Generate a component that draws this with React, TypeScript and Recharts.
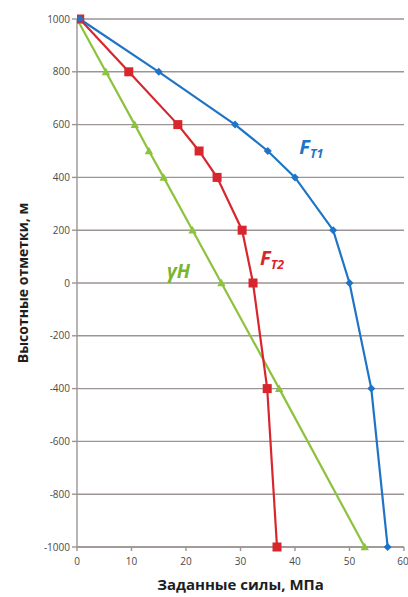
import { LineChart, Line, XAxis, YAxis, CartesianGrid, ReferenceDot } from 'recharts'

const heights = [1000, 800, 600, 500, 400, 200, 0, -400, -1000]
const ft1Values = [0.5, 15, 29, 35, 40, 47, 50, 54, 57]
const ft2Values = [0.5, 9.5, 18.5, 22.4, 25.7, 30.3, 32.3, 34.9, 36.7]
const ghValues = [0, 5.3, 10.6, 13.2, 15.9, 21.2, 26.5, 37.1, 52.8]

const xTicks = [0, 10, 20, 30, 40, 50, 60]
const yTicks = [-1000, -800, -600, -400, -200, 0, 200, 400, 600, 800, 1000]

const COLORS = {
  ft1: '#1f74c6',
  ft2: '#d8262e',
  gh: '#8cc23c',
  ghText: '#7ab532',
  grid: '#9b9593',
  tick: '#4a4a4a',
}

const toPoints = (vals: number[]) => vals.map((f, i) => ({ f, h: heights[i] }))

const ft1Data = toPoints(ft1Values)
const ft2Data = toPoints(ft2Values)
const ghData = toPoints(ghValues)

function DiamondDot({ cx, cy, index }: any) {
  const s = 4
  return (
    <path
      key={`d-${index}`}
      d={`M${cx},${cy - s} L${cx + s},${cy} L${cx},${cy + s} L${cx - s},${cy} Z`}
      fill={COLORS.ft1}
    />
  )
}

function SquareDot({ cx, cy, index }: any) {
  const s = 4.5
  return <rect key={`s-${index}`} x={cx - s} y={cy - s} width={s * 2} height={s * 2} fill={COLORS.ft2} />
}

function TriangleDot({ cx, cy, index }: any) {
  const s = 4.2
  return (
    <path
      key={`t-${index}`}
      d={`M${cx},${cy - s} L${cx + s},${cy + s * 0.8} L${cx - s},${cy + s * 0.8} Z`}
      fill={COLORS.gh}
    />
  )
}

function SubLabel({ viewBox, main, sub, color, size }: any) {
  const { x, y } = viewBox
  return (
    <text x={x} y={y} fill={color} fontFamily="'Open Sans', sans-serif" fontWeight={700} fontStyle="italic" fontSize={size}>
      {main}
      {sub && (
        <tspan fontSize={size * 0.62} dy={4}>
          {sub}
        </tspan>
      )}
    </text>
  )
}

export default function App() {
  return (
    <div style={{ position: 'absolute', left: 0, top: 0, background: '#fff' }}>
      <LineChart width={408} height={597} margin={{ top: 19, right: 4, bottom: 20, left: 17 }}>
        <CartesianGrid horizontal vertical={false} stroke={COLORS.grid} strokeWidth={1.4} />
        <XAxis
          type="number"
          dataKey="f"
          domain={[0, 60]}
          ticks={xTicks}
          height={30}
          stroke={COLORS.grid}
          strokeWidth={1.4}
          tickSize={4}
          tick={{ fontSize: 10, fill: COLORS.tick, fontFamily: "'Open Sans', sans-serif", dy: 5 }}
          allowDataOverflow
          label={{
            value: 'Заданные  силы, МПа',
            position: 'bottom',
            offset: 2,
            fill: '#1e1e1e',
            fontSize: 15,
            fontWeight: 700,
            fontFamily: "'Open Sans', sans-serif",
          }}
        />
        <YAxis
          type="number"
          dataKey="h"
          domain={[-1000, 1000]}
          ticks={yTicks}
          width={60}
          stroke={COLORS.grid}
          strokeWidth={1.4}
          tickSize={5}
          tick={{ fontSize: 10, fill: COLORS.tick, fontFamily: "'Open Sans', sans-serif" }}
          label={{
            value: 'Высотные отметки, м',
            angle: -90,
            position: 'insideLeft',
            offset: 6,
            style: { textAnchor: 'middle' },
            fill: '#1e1e1e',
            fontSize: 14,
            fontWeight: 700,
            fontFamily: "'Open Sans', sans-serif",
          }}
        />
        <Line
          data={ghData}
          dataKey="h"
          stroke={COLORS.gh}
          strokeWidth={2.2}
          dot={(p: any) => <TriangleDot {...p} />}
          isAnimationActive={false}
        />
        <Line
          data={ft2Data}
          dataKey="h"
          stroke={COLORS.ft2}
          strokeWidth={2.2}
          dot={(p: any) => <SquareDot {...p} />}
          isAnimationActive={false}
        />
        <Line
          data={ft1Data}
          dataKey="h"
          stroke={COLORS.ft1}
          strokeWidth={2.2}
          dot={(p: any) => <DiamondDot {...p} />}
          isAnimationActive={false}
        />
        <ReferenceDot
          x={40.8}
          y={488}
          r={0}
          label={(props: any) => <SubLabel {...props} main="F" sub="T1" color={COLORS.ft1} size={20} />}
        />
        <ReferenceDot
          x={33.6}
          y={68}
          r={0}
          label={(props: any) => <SubLabel {...props} main="F" sub="T2" color={COLORS.ft2} size={20} />}
        />
        <ReferenceDot
          x={16.5}
          y={18}
          r={0}
          label={(props: any) => <SubLabel {...props} main="γH" color={COLORS.ghText} size={19} />}
        />
      </LineChart>
    </div>
  )
}
